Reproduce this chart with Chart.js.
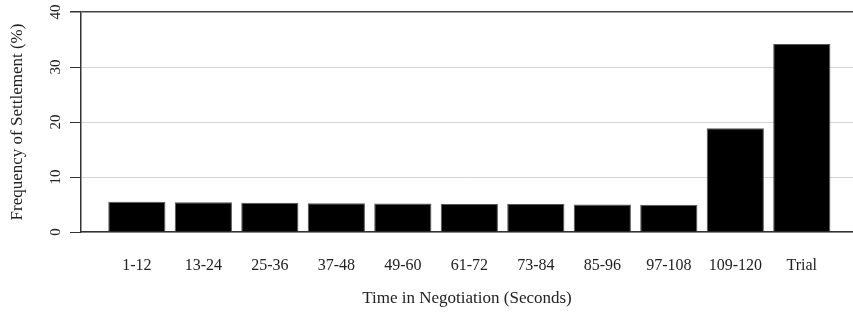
<!DOCTYPE html>
<html>
<head>
<meta charset="utf-8">
<script src="https://cdn.jsdelivr.net/npm/chart.js@4"></script>
<style>
  html, body { margin: 0; padding: 0; background: #fff; }
  #wrap { width: 853px; height: 319px; }
</style>
</head>
<body>
<div id="wrap"><canvas id="barchart"></canvas></div>
<script>
const categories = ['1-12', '13-24', '25-36', '37-48', '49-60', '61-72', '73-84', '85-96', '97-108', '109-120', 'Trial'];
const frequency = [5.5, 5.4, 5.3, 5.25, 5.2, 5.1, 5.1, 5.0, 4.95, 18.85, 34.2];
const yTicks = [0, 10, 20, 30, 40];

const serif = '"Liberation Serif", "DejaVu Serif", serif';
const ink = '#222';

// y tick labels are drawn rotated, like the original figure
const rotatedYLabels = {
  id: 'rotatedYLabels',
  afterDraw(chart) {
    const y = chart.scales.y;
    const c = chart.ctx;
    c.save();
    c.fillStyle = ink;
    c.font = '15px ' + serif;
    c.textAlign = 'center';
    c.textBaseline = 'middle';
    yTicks.forEach(v => {
      c.save();
      c.translate(56, y.getPixelForValue(v));
      c.rotate(-Math.PI / 2);
      c.fillText(String(v), 0, 0);
      c.restore();
    });
    c.restore();
  }
};

const ctx = document.getElementById('barchart').getContext('2d');

const data = {
  datasets: [{
    label: 'Frequency',
    data: frequency.map((v, i) => ({ x: i, y: v })),
    backgroundColor: '#000',
    borderColor: '#555',
    borderWidth: 1,
    categoryPercentage: 1,
    barPercentage: 0.86
  }]
};

const config = {
  type: 'bar',
  data: data,
  options: {
    responsive: false,
    animation: false,
    layout: { padding: { top: 12, right: 0, bottom: 0, left: 0 } },
    plugins: { legend: { display: false }, tooltip: { enabled: false } },
    scales: {
      x: {
        type: 'linear',
        offset: false,
        min: -0.84,
        max: 10.77,
        afterBuildTicks: (s) => { s.ticks = categories.map((_, i) => ({ value: i })); },
        afterFit: (s) => { s.height = 87; },
        grid: { display: false, drawTicks: false, offset: false },
        border: { display: true, color: '#333', width: 1.5 },
        ticks: {
          autoSkip: false,
          maxRotation: 0,
          padding: 24,
          color: ink,
          font: { family: serif, size: 16 },
          callback: (v) => categories[v]
        },
        title: {
          display: true,
          text: 'Time in Negotiation (Seconds)',
          color: ink,
          font: { family: serif, size: 17 },
          padding: { top: 0, bottom: 10 }
        }
      },
      y: {
        min: 0,
        max: 40,
        afterBuildTicks: (s) => { s.ticks = yTicks.map(v => ({ value: v })); },
        afterFit: (s) => { s.width = 81; },
        grid: {
          color: (c) => c.tick && c.tick.value === 40 ? '#444' : '#d4d4d4',
          lineWidth: (c) => c.tick && c.tick.value === 40 ? 1.5 : 1,
          tickColor: '#333',
          tickLength: 11
        },
        border: { display: true, color: '#333', width: 1.5 },
        ticks: { color: 'rgba(0,0,0,0)', font: { family: serif, size: 14 } },
        title: {
          display: true,
          text: 'Frequency of Settlement (%)',
          color: ink,
          font: { family: serif, size: 17 },
          padding: { top: 7, bottom: 0 }
        }
      }
    }
  },
  plugins: [rotatedYLabels]
};

const canvas = document.getElementById('barchart');
canvas.width = 853;
canvas.height = 319;
const myChart = new Chart(ctx, config);
</script>
</body>
</html>
